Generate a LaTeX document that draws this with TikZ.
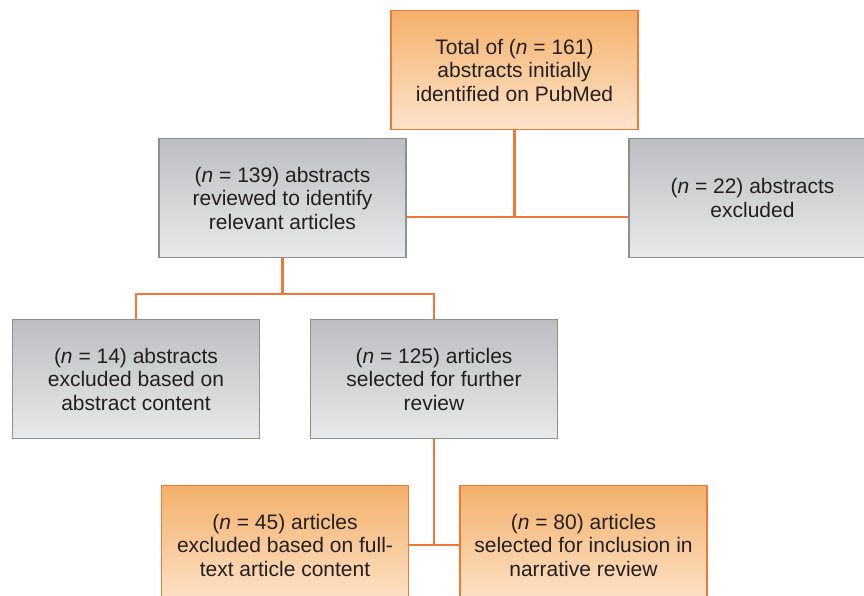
\documentclass[tikz,border=0pt]{standalone}
\usepackage{fontspec}
\setmainfont{Liberation Sans}
\definecolor{orline}{HTML}{EC7A36}
\definecolor{ortop}{HTML}{F4B06A}
\definecolor{orbot}{HTML}{FDE4CB}
\definecolor{grline}{HTML}{8E8F91}
\definecolor{grtop}{HTML}{BDBEC1}
\definecolor{grbot}{HTML}{E8E9EA}
\definecolor{txt}{HTML}{231F20}

\begin{document}
\begin{tikzpicture}[x=1pt,y=-1pt]
    \tikzset{block/.style={rectangle, draw=orline, line width=1.8pt, shading=axis, top color=ortop, bottom color=orbot, align=center, text=txt, minimum width=247pt, minimum height=119pt, inner sep=0pt, font=\fontsize{21}{23.5}\selectfont},
        greyblock/.style={block, draw=grline, top color=grtop, bottom color=grbot},
        link/.style={draw=orline, line width=2.2pt}};
    \useasboundingbox (0,0) rectangle (864,595);
    \clip (0,0) rectangle (864,595);

    \node[block] (total) at (514.5,70) {Total of (\textit{n} = 161)\\abstracts initially\\identified on PubMed};
    \node[greyblock] (reviewed) at (282.5,198) {(\textit{n} = 139) abstracts\\reviewed to identify\\relevant articles};
    \node[greyblock] (excl22) at (752.5,198) {(\textit{n} = 22) abstracts\\excluded};
    \node[greyblock] (excl14) at (136,379) {(\textit{n} = 14) abstracts\\excluded based on\\abstract content};
    \node[greyblock] (further) at (434,379) {(\textit{n} = 125) articles\\selected for further\\review};
    \node[block] (excl45) at (285,545) {(\textit{n} = 45) articles\\excluded based on full-\\text article content};
    \node[block] (incl80) at (583.5,545) {(\textit{n} = 80) articles\\selected for inclusion in\\narrative review};

    \coordinate (j1) at (514.5,217);
    \coordinate (j2) at (282.5,294);
    \draw[link] (total.south) -- (j1);
    \draw[link] (reviewed.east |- j1) -- (excl22.west |- j1);
    \draw[link] (reviewed.south) -- (j2);
    \draw[link] (excl14.north) |- (j2) -| (further.north);
    \draw[link] (further.south) -- (further.south |- excl45.east);
    \draw[link] (excl45.east) -- (incl80.west);
\end{tikzpicture}
\end{document}
